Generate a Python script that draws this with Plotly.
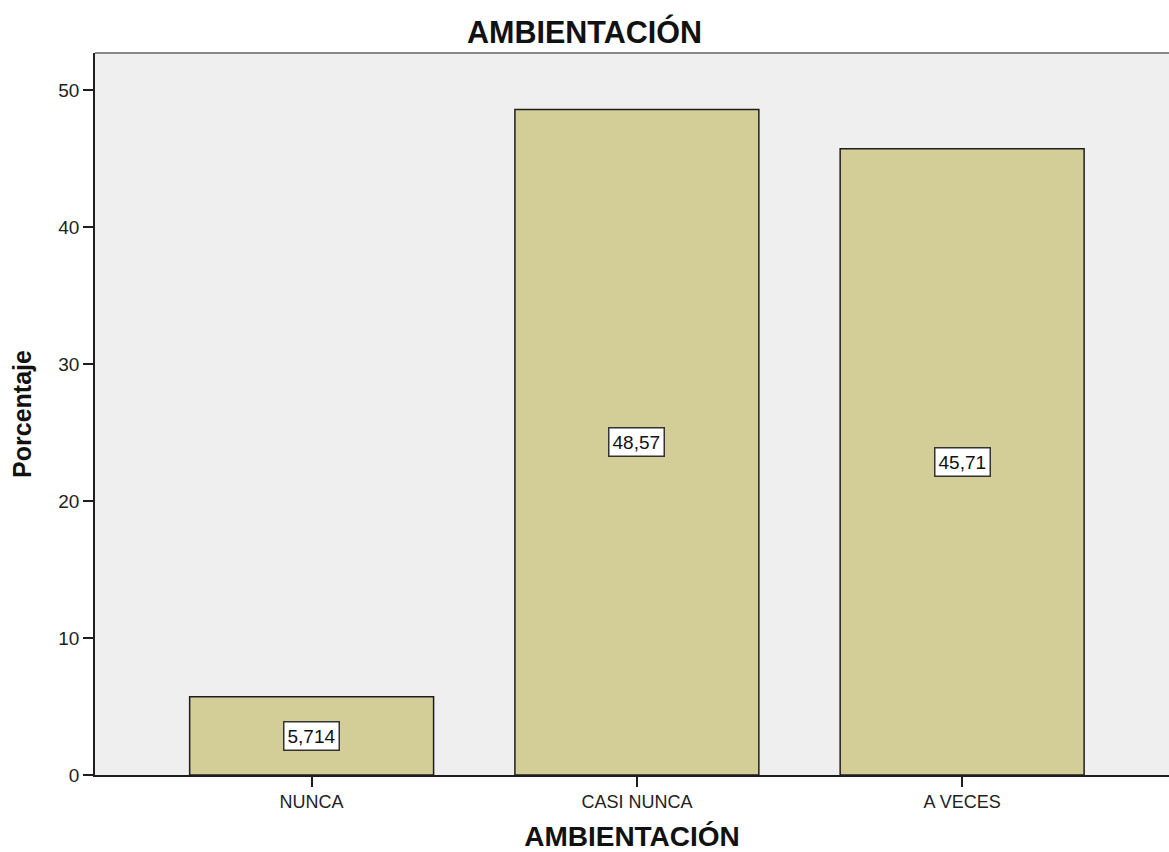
import plotly.graph_objects as go

categorias = ["NUNCA", "CASI NUNCA", "A VECES"]
porcentajes = [5.714, 48.57, 45.71]
etiquetas = ["5,714", "48,57", "45,71"]
y_ticks = [0, 10, 20, 30, 40, 50]

FONT = "Liberation Sans, Arial, sans-serif"

fig = go.Figure()
fig.add_trace(go.Bar(
    x=categorias,
    y=porcentajes,
    width=0.75,
    marker=dict(color="#D3CE98", line=dict(color="#1E1E1E", width=1.5)),
    hoverinfo="skip",
))

# value boxes placed at mid-height of each bar
for cat, val, lab in zip(categorias, porcentajes, etiquetas):
    fig.add_annotation(
        x=cat, y=val / 2, text=lab, showarrow=False,
        font=dict(family=FONT, size=19, color="#111111"),
        bgcolor="white", bordercolor="#333333", borderwidth=1.5, borderpad=3,
    )

fig.update_layout(
    width=1169, height=852,
    margin=dict(l=95, r=0, t=53, b=77),
    paper_bgcolor="white",
    plot_bgcolor="#EFEFEF",
    showlegend=False,
    bargap=0.25,
    title=dict(text="<b>AMBIENTACIÓN</b>", x=0.5, xanchor="center",
               y=1 - 32 / 852, yanchor="middle",
               font=dict(family=FONT, size=30.5, color="#111111")),
    xaxis=dict(
        range=[-0.666, 2.636],
        showgrid=False, zeroline=False,
        showline=True, linecolor="#1E1E1E", linewidth=1.5,
        ticks="outside", ticklen=10, tickcolor="#1E1E1E", tickwidth=1.5,
        tickfont=dict(family=FONT, size=18, color="#222222"),
        automargin=False,
        title=dict(text="<b>AMBIENTACIÓN</b>", standoff=20,
                   font=dict(family=FONT, size=28, color="#111111")),
    ),
    yaxis=dict(
        range=[0, 52.7],
        tickvals=y_ticks,
        showgrid=False, zeroline=False,
        showline=True, linecolor="#1E1E1E", linewidth=1.5,
        ticks="outside", ticklen=10, tickcolor="#1E1E1E", tickwidth=1.5,
        tickfont=dict(family=FONT, size=19, color="#222222"),
        automargin=False,
        title=dict(text="<b>Porcentaje</b>", standoff=20,
                   font=dict(family=FONT, size=25, color="#111111")),
    ),
)

# grey frame line along the top of the plotting area
fig.add_shape(type="line", xref="paper", yref="paper", x0=0, x1=1, y0=1, y1=1,
              line=dict(color="#888888", width=2))

fig.write_html("out.html")
